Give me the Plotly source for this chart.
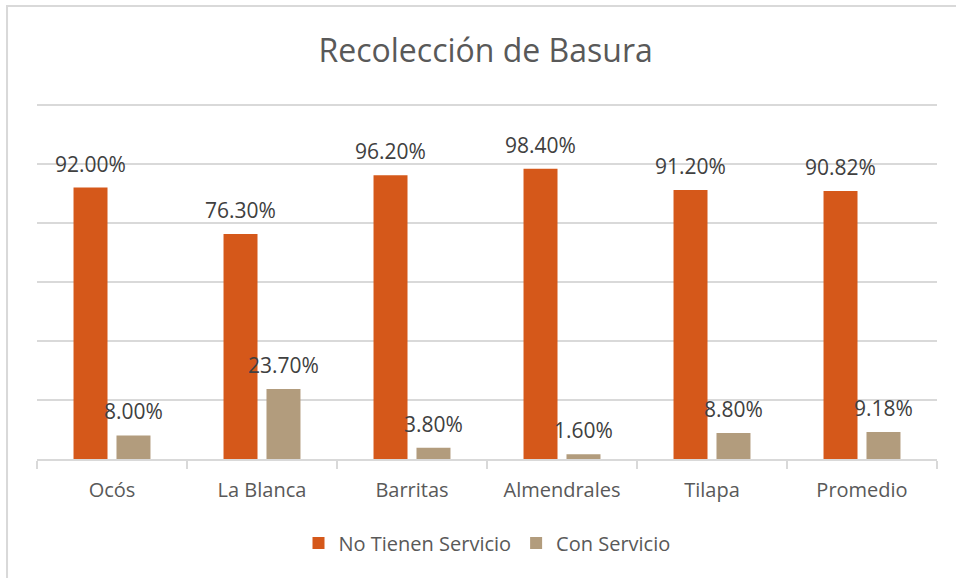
import plotly.graph_objects as go

# Municipal garbage-collection coverage by locality
localidades = ["Ocós", "La Blanca", "Barritas", "Almendrales", "Tilapa", "Promedio"]
sin_servicio = [0.92, 0.763, 0.962, 0.984, 0.912, 0.9082]
con_servicio = [0.08, 0.237, 0.038, 0.016, 0.088, 0.0918]
series_names = ["No Tienen Servicio", "Con Servicio"]

ORANGE = "#D5581A"
TAN = "#B29C7D"
GRID = "#D9D9D9"
FONT = "Open Sans, Calibri, sans-serif"

fig = go.Figure()
fig.add_trace(go.Bar(x=localidades, y=sin_servicio, name=series_names[0],
                     marker=dict(color=ORANGE, line=dict(width=0))))
fig.add_trace(go.Bar(x=localidades, y=con_servicio, name=series_names[1],
                     marker=dict(color=TAN, line=dict(width=0))))

# value labels above each bar
for vals, shift in ((sin_servicio, -21.5), (con_servicio, 21.5)):
    for cat, v in zip(localidades, vals):
        fig.add_annotation(x=cat, y=v, text=f"{v * 100:.2f}%", showarrow=False,
                           xshift=shift, yshift=24, yanchor="middle",
                           font=dict(family=FONT, size=21, color="#404040"))

# chart frame
fig.add_shape(type="rect", xref="paper", yref="paper",
              x0=-0.0333, x1=1.2, y0=-0.6, y1=1.2688,
              line=dict(color=GRID, width=2), layer="below")

fig.update_layout(
    width=956, height=578,
    margin=dict(l=37, r=19, t=102, b=119),
    paper_bgcolor="white", plot_bgcolor="white",
    barmode="group", bargap=0.427, bargroupgap=0.209,
    title=dict(text="Recolección de Basura", x=0.508, xref="container",
               y=1 - 51 / 578, yanchor="middle",
               font=dict(family=FONT, size=32, color="#595959")),
    legend=dict(orientation="h", x=0.5, xanchor="center", y=-0.235, yanchor="middle",
                font=dict(family=FONT, size=20, color="#595959"),
                itemwidth=30, traceorder="normal"),
    showlegend=True,
)
fig.update_xaxes(type="category", showline=True, linecolor=GRID, linewidth=1.5,
                 ticks="outside", tickson="boundaries", ticklen=8, tickcolor=GRID,
                 tickwidth=1.5, showgrid=False, ticklabelstandoff=12,
                 tickfont=dict(family=FONT, size=20, color="#595959"))
fig.update_yaxes(range=[0, 1.21], tick0=0, dtick=0.2, showticklabels=False, showgrid=True,
                 gridcolor=GRID, gridwidth=1.5, zeroline=False, showline=False)

fig.write_html("out.html")
